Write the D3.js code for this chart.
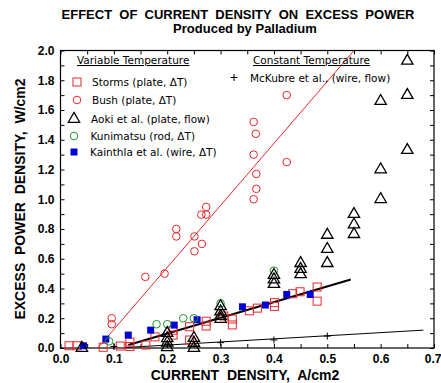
<!DOCTYPE html>
<html>
<head>
<meta charset="utf-8">
<script src="https://cdn.jsdelivr.net/npm/d3@7"></script>
<style>
  html, body { margin: 0; padding: 0; background: #fff; }
  svg text { white-space: pre; }
</style>
</head>
<body>
<svg id="chart" width="441" height="383"></svg>
<script>
// Excess power density (W/cm2) vs. current density (A/cm2)
const storms = [
  [0.016,0.015],[0.031,0.015],[0.08,0.005],[0.112,0.013],[0.13,0.04],[0.13,0.01],
  [0.16,0.02],[0.177,0.075],[0.211,0.12],[0.211,0.087],[0.242,0.143],[0.242,0.054],
  [0.273,0.18],[0.273,0.148],[0.306,0.215],[0.322,0.195],[0.322,0.155],[0.354,0.25],
  [0.369,0.268],[0.401,0.305],[0.401,0.28],[0.435,0.365],[0.449,0.378],[0.481,0.41],[0.481,0.315]
];
const bush = [
  [0.096,0.20],[0.096,0.16],[0.159,0.478],[0.195,0.50],[0.217,0.80],[0.217,0.75],
  [0.251,0.75],[0.251,0.65],[0.265,0.70],[0.264,0.897],[0.273,0.948],[0.273,0.897],
  [0.362,1.52],[0.366,1.44],[0.362,1.30],[0.367,1.17],[0.367,1.07],[0.362,1.00],
  [0.424,1.70],[0.424,1.25]
];
const aoki = [
  [0.04,0.0],[0.20,0.10],[0.20,0.065],[0.20,0.035],[0.20,0.005],[0.25,0.067],[0.25,0.034],
  [0.25,0.0],[0.30,0.28],[0.30,0.245],[0.30,0.215],[0.30,0.195],[0.40,0.49],[0.40,0.46],
  [0.40,0.43],[0.45,0.57],[0.45,0.53],[0.45,0.495],[0.50,0.76],[0.50,0.665],[0.50,0.57],
  [0.55,0.90],[0.55,0.83],[0.55,0.765],[0.60,1.66],[0.60,1.20],[0.60,1.00],
  [0.65,1.93],[0.65,1.70],[0.65,1.33]
];
const kunimatsu = [[0.091,0.045],[0.18,0.16],[0.20,0.16],[0.23,0.20],[0.25,0.20],[0.30,0.30],[0.40,0.52]];
const kainthla = [
  [0.043,0.015],[0.085,0.06],[0.127,0.087],[0.169,0.12],[0.213,0.154],[0.256,0.19],
  [0.341,0.277],[0.384,0.289],[0.424,0.36],[0.468,0.36]
];
const mckubre = [[0.10,0.01],[0.20,0.025],[0.30,0.036],[0.40,0.054],[0.50,0.08]];

// straight-line fits
const bushFit = [[0.07,0.0],[0.55,2.0]];
const stormsFit = [[0.127,0.02],[0.544,0.46]];
const mckubreFit = [[0.12,0.003],[0.68,0.12]];

const xTicks = [0.0,0.1,0.2,0.3,0.4,0.5,0.6,0.7];
const yTicks = [0.0,0.2,0.4,0.6,0.8,1.0,1.2,1.4,1.6,1.8,2.0];

const RED = "#e8262b", BLUE = "#0000d4", GREEN = "#1f9a2a";

const svg = d3.select("#chart");
const x = d3.scaleLinear().domain([0, 0.7]).range([60.5, 434]);
const y = d3.scaleLinear().domain([0, 2.0]).range([348, 50.5]);

svg.append("defs").append("clipPath").attr("id", "plot")
  .append("rect").attr("x", x(0)).attr("y", y(2)).attr("width", x(0.7) - x(0)).attr("height", y(0) - y(2));

// axes with inward ticks
const fmt = d3.format(".1f");
const minorX = d3.range(0, 0.7001, 0.05);
const minorY = d3.range(0, 2.0001, 0.1);
svg.append("g").attr("transform", `translate(0,${y(0)})`)
  .call(d3.axisBottom(x).tickValues(minorX).tickSize(-4).tickFormat(""))
  .call(g => g.select(".domain").remove());
svg.append("g").attr("transform", `translate(0,${y(2)})`)
  .call(d3.axisTop(x).tickValues(minorX).tickSize(-4).tickFormat(""))
  .call(g => g.select(".domain").remove());
svg.append("g").attr("transform", `translate(${x(0)},0)`)
  .call(d3.axisLeft(y).tickValues(minorY).tickSize(-4).tickFormat(""))
  .call(g => g.select(".domain").remove());
svg.append("g").attr("transform", `translate(${x(0.7)},0)`)
  .call(d3.axisRight(y).tickValues(minorY).tickSize(-4).tickFormat(""))
  .call(g => g.select(".domain").remove());
svg.selectAll(".tick line").attr("stroke", "#000").attr("stroke-width", 1);

// tick labels
svg.append("g").attr("transform", `translate(0,${y(0)})`)
  .call(d3.axisBottom(x).tickValues(xTicks).tickSize(0).tickPadding(6).tickFormat(fmt))
  .call(g => g.select(".domain").remove())
  .selectAll("text").attr("font-family", "Liberation Sans, Arial, sans-serif")
  .attr("font-weight", "bold").attr("font-size", 12).attr("fill", "#000")
  .filter(d => d === 0.7).attr("text-anchor", "end").attr("dx", 7);
svg.append("g").attr("transform", `translate(${x(0)},0)`)
  .call(d3.axisLeft(y).tickValues(yTicks).tickSize(0).tickPadding(6).tickFormat(fmt))
  .call(g => g.select(".domain").remove())
  .selectAll("text").attr("font-family", "Liberation Sans, Arial, sans-serif")
  .attr("font-weight", "bold").attr("font-size", 12).attr("fill", "#000");

// frame
svg.append("rect").attr("x", x(0)).attr("y", y(2))
  .attr("width", x(0.7) - x(0)).attr("height", y(0) - y(2))
  .attr("fill", "none").attr("stroke", "#000").attr("stroke-width", 1.2);

const plot = svg.append("g").attr("clip-path", "url(#plot)");
const line = d3.line().x(d => x(d[0])).y(d => y(d[1]));

plot.append("path").datum(bushFit).attr("d", line).attr("fill", "none").attr("stroke", RED).attr("stroke-width", 1);
plot.append("path").datum(mckubreFit).attr("d", line).attr("fill", "none").attr("stroke", "#000").attr("stroke-width", 1);
plot.append("path").datum(stormsFit).attr("d", line).attr("fill", "none").attr("stroke", "#000").attr("stroke-width", 2);

const tri = d3.symbol().type(d3.symbolTriangle).size(56);

function drawStorms(g, data) {
  g.selectAll(null).data(data).join("rect")
    .attr("x", d => x(d[0]) - 4).attr("y", d => y(d[1]) - 4)
    .attr("width", 8).attr("height", 8)
    .attr("fill", "none").attr("stroke", RED).attr("stroke-width", 1);
}
function drawCircles(g, data, color) {
  g.selectAll(null).data(data).join("circle")
    .attr("cx", d => x(d[0])).attr("cy", d => y(d[1])).attr("r", 3.8)
    .attr("fill", "none").attr("stroke", color).attr("stroke-width", 1);
}
function drawTriangles(g, data) {
  g.selectAll(null).data(data).join("path")
    .attr("d", tri).attr("transform", d => `translate(${x(d[0])},${y(d[1])})`)
    .attr("fill", "none").attr("stroke", "#000").attr("stroke-width", 1.3);
}
function drawFilled(g, data) {
  g.selectAll(null).data(data).join("rect")
    .attr("x", d => x(d[0]) - 3.5).attr("y", d => y(d[1]) - 3.5)
    .attr("width", 7).attr("height", 7).attr("fill", BLUE);
}
function drawPlus(g, data) {
  g.selectAll(null).data(data).join("path")
    .attr("d", d => `M${x(d[0]) - 3.5},${y(d[1])}h7M${x(d[0])},${y(d[1]) - 3.5}v7`)
    .attr("stroke", "#000").attr("stroke-width", 1);
}

const marks = svg.append("g");
drawStorms(marks.append("g"), storms);
drawFilled(marks.append("g"), kainthla);
drawCircles(marks.append("g"), kunimatsu, GREEN);
drawTriangles(marks.append("g"), aoki);
drawCircles(marks.append("g"), bush, RED);
drawPlus(marks.append("g"), mckubre);

// legend
const LF = "DejaVu Sans, Verdana, sans-serif";
const leg = svg.append("g").attr("font-family", LF).attr("font-size", 10.5).attr("fill", "#000");
leg.append("text").attr("x", 77).attr("y", 64).text("Variable Temperature").attr("text-decoration", "underline");
leg.append("text").attr("x", 253).attr("y", 64).text("Constant Temperature").attr("text-decoration", "underline");

const rows = [
  {label: "Storms (plate, \u0394T)", cx: 77, cy: 82, tx: 92, kind: "sq"},
  {label: "Bush (plate, \u0394T)", cx: 77, cy: 100, tx: 92, kind: "circR"},
  {label: "Aoki et al. (plate, flow)", cx: 74, cy: 119, tx: 91, kind: "tri"},
  {label: "Kunimatsu (rod, \u0394T)", cx: 74, cy: 136, tx: 90.5, kind: "circG"},
  {label: "Kainthla et al. (wire, \u0394T)", cx: 74, cy: 152, tx: 90, kind: "fill"},
  {label: "McKubre et al., (wire, flow)", cx: 234, cy: 77.5, tx: 250, kind: "plus"}
];
rows.forEach(r => {
  const g = leg.append("g");
  if (r.kind === "sq") g.append("rect").attr("x", r.cx - 4).attr("y", r.cy - 4).attr("width", 8).attr("height", 8).attr("fill", "none").attr("stroke", RED);
  if (r.kind === "circR") g.append("circle").attr("cx", r.cx).attr("cy", r.cy).attr("r", 3.8).attr("fill", "none").attr("stroke", RED);
  if (r.kind === "circG") g.append("circle").attr("cx", r.cx).attr("cy", r.cy).attr("r", 3.8).attr("fill", "none").attr("stroke", GREEN);
  if (r.kind === "tri") g.append("path").attr("d", tri).attr("transform", `translate(${r.cx},${r.cy})`).attr("fill", "none").attr("stroke", "#000").attr("stroke-width", 1.3);
  if (r.kind === "fill") g.append("rect").attr("x", r.cx - 3.5).attr("y", r.cy - 3.5).attr("width", 7).attr("height", 7).attr("fill", BLUE);
  if (r.kind === "plus") g.append("path").attr("d", `M${r.cx - 3.5},${r.cy}h7M${r.cx},${r.cy - 3.5}v7`).attr("stroke", "#000");
  g.append("text").attr("x", r.tx).attr("y", r.cy + 4).text(r.label);
});

// titles
const TF = "Liberation Sans, Arial, sans-serif";
svg.append("text").attr("x", 238).attr("y", 19).attr("text-anchor", "middle")
  .attr("font-family", TF).attr("font-weight", "bold").attr("font-size", 13)
  .text("EFFECT  OF  CURRENT  DENSITY  ON  EXCESS  POWER");
svg.append("text").attr("x", 245).attr("y", 33).attr("text-anchor", "middle")
  .attr("font-family", TF).attr("font-weight", "bold").attr("font-size", 13)
  .text("Produced by Palladium");
svg.append("text").attr("x", 245).attr("y", 380).attr("text-anchor", "middle")
  .attr("font-family", TF).attr("font-weight", "bold").attr("font-size", 14)
  .text("CURRENT  DENSITY,  A/cm2");
svg.append("text").attr("transform", "translate(25,199) rotate(-90)").attr("text-anchor", "middle")
  .attr("font-family", TF).attr("font-weight", "bold").attr("font-size", 14)
  .text("EXCESS  POWER  DENSITY,  W/cm2");
</script>
</body>
</html>
